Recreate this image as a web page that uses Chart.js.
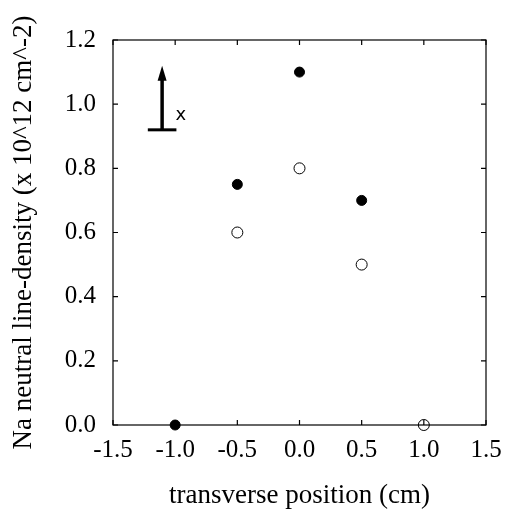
<!DOCTYPE html>
<html>
<head>
<meta charset="utf-8">
<script src="https://cdn.jsdelivr.net/npm/chart.js@4"></script>
<style>
html,body{margin:0;padding:0;background:#fff;}
#c{display:block;}
</style>
</head>
<body>
<canvas id="c" width="519" height="515"></canvas>
<script>
// Data
const filledX = [-1.0, -0.5, 0.0, 0.5];
const filledY = [0.0, 0.75, 1.1, 0.7];
const openX = [-0.5, 0.0, 0.5, 1.0];
const openY = [0.6, 0.8, 0.5, 0.0];
const xTicks = [-1.5, -1.0, -0.5, 0.0, 0.5, 1.0, 1.5];
const yTicks = [0.0, 0.2, 0.4, 0.6, 0.8, 1.0, 1.2];
// Arrow annotation (data coordinates)
const arrowX = [-1.105];
const arrowY = [0.92, 1.12];
const arrowBarX = [-1.22, -0.99];
const arrowLabel = ['x'];
const arrowLabelPos = [-0.955, 0.965];

const serif = '"Liberation Serif", "Times New Roman", serif';

const innerTicks = {
  id: 'innerTicks',
  afterDraw(chart) {
    const {ctx, chartArea: a, scales: {x, y}} = chart;
    ctx.save();
    ctx.strokeStyle = '#000';
    ctx.lineWidth = 1.2;
    ctx.strokeRect(a.left, a.top, a.right - a.left, a.bottom - a.top);
    const L = 5;
    ctx.beginPath();
    xTicks.forEach(v => {
      const px = x.getPixelForValue(v);
      ctx.moveTo(px, a.bottom); ctx.lineTo(px, a.bottom - L);
      ctx.moveTo(px, a.top); ctx.lineTo(px, a.top + L);
    });
    yTicks.forEach(v => {
      const py = y.getPixelForValue(v);
      ctx.moveTo(a.left, py); ctx.lineTo(a.left + L, py);
      ctx.moveTo(a.right, py); ctx.lineTo(a.right - L, py);
    });
    ctx.stroke();
    // arrow annotation
    const ax = x.getPixelForValue(arrowX[0]);
    const ay0 = y.getPixelForValue(arrowY[0]);
    const ay1 = y.getPixelForValue(arrowY[1]);
    ctx.lineWidth = 3.5;
    ctx.beginPath();
    ctx.moveTo(ax, ay0); ctx.lineTo(ax, ay1 + 10);
    ctx.stroke();
    ctx.beginPath();
    ctx.moveTo(ax, ay1); ctx.lineTo(ax - 4.5, ay1 + 15); ctx.lineTo(ax + 4.5, ay1 + 15);
    ctx.closePath();
    ctx.fillStyle = '#000';
    ctx.fill();
    ctx.lineWidth = 3;
    ctx.beginPath();
    ctx.moveTo(x.getPixelForValue(arrowBarX[0]), ay0);
    ctx.lineTo(x.getPixelForValue(arrowBarX[1]), ay0);
    ctx.stroke();
    ctx.font = '18px "DejaVu Sans", sans-serif';
    ctx.textAlign = 'center';
    ctx.textBaseline = 'middle';
    ctx.fillText(arrowLabel[0], x.getPixelForValue(arrowLabelPos[0]), y.getPixelForValue(arrowLabelPos[1]));
    ctx.restore();
  }
};

new Chart(document.getElementById('c'), {
  type: 'scatter',
  data: {
    datasets: [
      {
        label: 'filled',
        data: filledX.map((v, i) => ({x: v, y: filledY[i]})),
        pointStyle: 'circle',
        pointRadius: 5,
        backgroundColor: '#000',
        borderColor: '#000',
        borderWidth: 1,
        clip: false
      },
      {
        label: 'open',
        data: openX.map((v, i) => ({x: v, y: openY[i]})),
        pointStyle: 'circle',
        pointRadius: 5.5,
        backgroundColor: '#fff',
        borderColor: '#000',
        borderWidth: 1,
        clip: false
      }
    ]
  },
  options: {
    responsive: false,
    animation: false,
    layout: {padding: {left: 0, right: 33, top: 40, bottom: 0}},
    plugins: {legend: {display: false}, tooltip: {enabled: false}},
    scales: {
      x: {
        type: 'linear',
        min: -1.5, max: 1.5,
        afterBuildTicks: s => { s.ticks = xTicks.map(v => ({value: v})); },
        afterFit: s => { s.height = 90; },
        grid: {display: false},
        border: {display: false},
        ticks: {
          color: '#000',
          font: {family: serif, size: 25},
          padding: 2,
          maxRotation: 0,
          callback: v => Number(v).toFixed(1)
        },
        title: {
          display: true,
          text: 'transverse position (cm)',
          color: '#000',
          font: {family: serif, size: 27},
          padding: {top: 8, bottom: 3}
        }
      },
      y: {
        type: 'linear',
        min: 0, max: 1.2,
        afterBuildTicks: s => { s.ticks = yTicks.map(v => ({value: v})); },
        afterFit: s => { s.width = 113; },
        grid: {display: false},
        border: {display: false},
        ticks: {
          color: '#000',
          font: {family: serif, size: 25},
          padding: 9,
          callback: v => Number(v).toFixed(1)
        },
        title: {
          display: true,
          text: 'Na neutral line-density (x 10^12 cm^-2)',
          color: '#000',
          font: {family: serif, size: 27},
          padding: {top: 8, bottom: 4}
        }
      }
    }
  },
  plugins: [innerTicks]
});
</script>
</body>
</html>
